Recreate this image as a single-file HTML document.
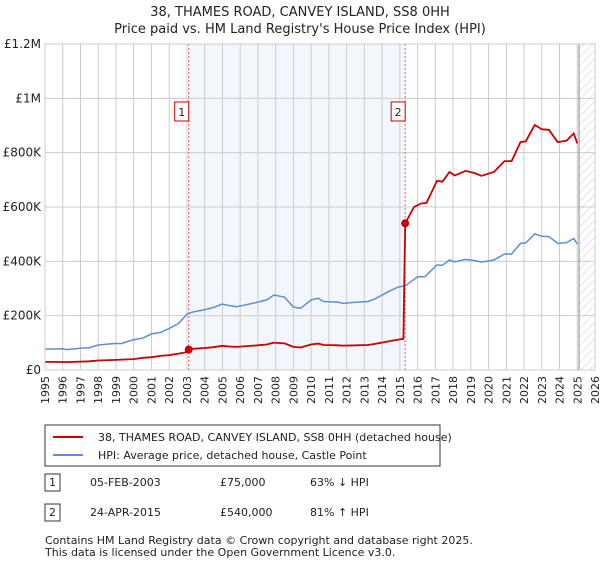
<!DOCTYPE html>
<html><head><meta charset="utf-8"><style>
body{margin:0;background:#fff;font-family:"Liberation Sans","DejaVu Sans",sans-serif;}
svg text{font-family:"DejaVu Sans","Liberation Sans",sans-serif;}
</style></head><body>
<svg id="c" width="600" height="560" xmlns="http://www.w3.org/2000/svg">
<defs><pattern id="hatch" width="6" height="6" patternUnits="userSpaceOnUse" patternTransform="rotate(45)"><line x1="0" y1="0" x2="0" y2="6" stroke="#ccc" stroke-width="1"/></pattern></defs>
<text x="300" y="16" text-anchor="middle" font-size="13" fill="#222">38, THAMES ROAD, CANVEY ISLAND, SS8 0HH</text>
<text x="300" y="33" text-anchor="middle" font-size="13" fill="#222">Price paid vs. HM Land Registry's House Price Index (HPI)</text>
<g id="plot"></g>
<g>
<rect x="45" y="425" width="395" height="41" fill="#fff" stroke="#333"/>
<line x1="53" y1="437" x2="83" y2="437" stroke="#cc0000" stroke-width="2"/>
<text x="98" y="441" font-size="11" fill="#222">38, THAMES ROAD, CANVEY ISLAND, SS8 0HH (detached house)</text>
<line x1="53" y1="455" x2="83" y2="455" stroke="#5b8fd6" stroke-width="2"/>
<text x="98" y="459" font-size="11" fill="#222">HPI: Average price, detached house, Castle Point</text>
</g>
<g font-size="11" fill="#222">
<rect x="45" y="474" width="15" height="17" fill="#fff" stroke="#333"/><text x="52.5" y="486" text-anchor="middle">1</text>
<text x="90" y="486">05-FEB-2003</text><text x="220" y="486">£75,000</text><text x="310" y="486">63% ↓ HPI</text>
<rect x="45" y="504" width="15" height="17" fill="#fff" stroke="#333"/><text x="52.5" y="516" text-anchor="middle">2</text>
<text x="90" y="516">24-APR-2015</text><text x="220" y="516">£540,000</text><text x="310" y="516">81% ↑ HPI</text>
</g>
<text x="45" y="544" font-size="11" fill="#222">Contains HM Land Registry data © Crown copyright and database right 2025.</text>
<text x="45" y="556" font-size="11" fill="#222">This data is licensed under the Open Government Licence v3.0.</text>
</svg>
<script>
const hpiYears=[1995,1996,1996.2,1997,1997.5,1998,1999,1999.3,2000,2000.5,2001,2001.5,2002,2002.5,2003,2003.3,2004,2004.5,2005,2005.3,2005.8,2006.2,2007,2007.5,2007.9,2008.5,2009,2009.4,2010,2010.4,2010.7,2011.5,2011.8,2012.6,2013.2,2013.6,2014.4,2014.9,2015.3,2016,2016.4,2017.1,2017.4,2017.8,2018.1,2018.7,2019.2,2019.6,2020.3,2020.9,2021.3,2021.8,2022.1,2022.6,2023,2023.4,2023.9,2024.4,2024.8,2025.0];
const hpiValues=[77,78,75,80,82,92,98,97,112,117,133,138,153,170,205,213,222,230,243,238,233,238,250,258,276,268,232,227,258,264,252,250,245,250,252,262,290,305,310,343,343,387,385,405,398,407,403,397,405,427,427,466,468,501,492,491,466,469,484,463];
const redYears=[1995,1995.6,1996.2,1997,1997.5,1998,1999,2000,2000.5,2001,2001.5,2002,2002.5,2003,2003.1,2003.3,2004,2004.5,2005,2005.3,2005.8,2006.2,2007,2007.5,2007.9,2008.5,2009,2009.4,2010,2010.4,2010.7,2011.5,2011.8,2012.6,2013.2,2013.6,2014.4,2014.9,2015.2,2015.3,2015.8,2016.2,2016.5,2017.1,2017.4,2017.8,2018.1,2018.7,2019.2,2019.6,2020.3,2020.9,2021.3,2021.8,2022.1,2022.6,2023,2023.4,2023.9,2024.4,2024.8,2025.0];
const redValues=[30,30,29,31,32,35,37,40,45,47,52,55,60,66,75,78,81,84,89,87,85,87,91,94,101,98,85,83,94,97,92,91,90,91,92,96,106,112,115,540,600,613,615,697,693,729,716,733,725,715,729,769,769,839,842,902,886,884,839,844,871,834];
const saleYears=[2003.1,2015.3];
const saleValues=[75,540];
const saleLabels=["1","2"];
const yTicks=[0,200,400,600,800,1000,1200];
const yTickLabels=["£0","£200K","£400K","£600K","£800K","£1M","£1.2M"];
const xTicks=[];for(let y=1995;y<=2026;y++)xTicks.push(y);

const X0=45,X1=595,Y0=370,Y1=44;
const xs=y=>X0+(y-1995)*(X1-X0)/31;
const ys=v=>Y0-v*(Y0-Y1)/1200;
const NS="http://www.w3.org/2000/svg";
const g=document.getElementById('plot');
function mk(t,a){const e=document.createElementNS(NS,t);for(const k in a)e.setAttribute(k,a[k]);g.appendChild(e);return e;}
let e;
e=mk('rect',{x:xs(saleYears[0]),y:Y1,width:xs(saleYears[1])-xs(saleYears[0]),height:Y0-Y1,fill:'#eef2fc',opacity:0.7});


e=mk('rect',{x:xs(2025.1),y:Y1,width:X1-xs(2025.1),height:Y0-Y1,fill:'url(#hatch)'});


xTicks.forEach(t=>{
 e=mk('line',{x1:xs(t),x2:xs(t),y1:Y1,y2:Y0,stroke:'#ccc','stroke-width':1});
 
 
 e=mk('text',{x:0,y:0,transform:`translate(${xs(t)+4},${Y0+6}) rotate(-90)`,'text-anchor':'end','font-size':11,fill:'#222'});
 e.textContent=t;
 
 
});
yTicks.forEach((t,i)=>{
 e=mk('line',{x1:X0,x2:X1,y1:ys(t),y2:ys(t),stroke:'#ccc','stroke-width':1});
 
 
 e=mk('text',{x:X0-4,y:ys(t)+4,'text-anchor':'end','font-size':12,fill:'#222'});
 e.textContent=yTickLabels[i];
 
 
});
e=mk('line',{x1:xs(2025.1),x2:xs(2025.1),y1:Y1,y2:Y0,stroke:'#888','stroke-width':1});


saleYears.forEach((s,i)=>{
 e=mk('line',{x1:xs(s),x2:xs(s),y1:Y1,y2:Y0,stroke:'#f06060','stroke-width':1,'stroke-dasharray':'2,2'});
 
 
 e=mk('rect',{x:xs(s)-14,y:102,width:14,height:19,fill:'#fff',stroke:'#cc0000'});
 
 
 e=mk('text',{x:xs(s)-7,y:116,'text-anchor':'middle','font-size':11,fill:'#222'});
 e.textContent=saleLabels[i];
 
 
});
e=mk('path',{d:hpiYears.map((y,i)=>(i?'L':'M')+xs(y).toFixed(1)+','+ys(hpiValues[i]).toFixed(1)).join(''),fill:'none',stroke:'#5b8fd6','stroke-width':1.5});


e=mk('path',{d:redYears.map((y,i)=>(i?'L':'M')+xs(y).toFixed(1)+','+ys(redValues[i]).toFixed(1)).join(''),fill:'none',stroke:'#cc0000','stroke-width':1.8});


saleYears.forEach((s,i)=>{
 e=mk('circle',{cx:xs(s),cy:ys(saleValues[i]),r:4,fill:'#cc0000'});
 
 
});
e=mk('rect',{x:X0,y:Y1,width:X1-X0,height:Y0-Y1,fill:'none',stroke:'#ccc'});


</script>
</body></html>
